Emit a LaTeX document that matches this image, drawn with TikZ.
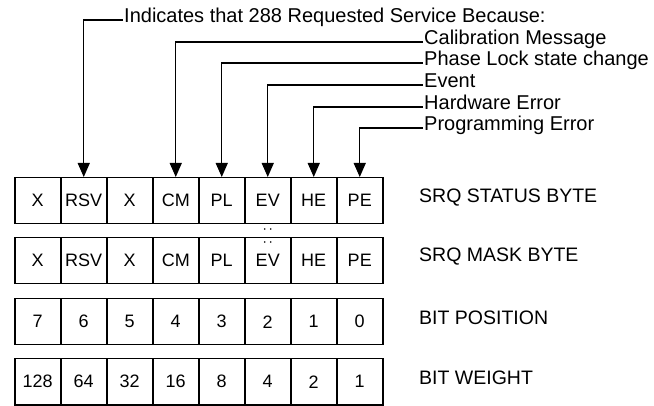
\documentclass[tikz,border=0pt]{standalone}
\usepackage{fontspec}
\setmainfont{Liberation Sans}
\usetikzlibrary{arrows.meta, calc}

\begin{document}
\begin{tikzpicture}[x=1pt,y=-1pt,
  cell/.style={draw, line width=1.5pt, minimum width=46pt, minimum height=46pt,
    inner sep=0pt, anchor=north west, font=\fontsize{18}{18}\selectfont},
  rowlabel/.style={anchor=west, inner sep=0pt, font=\fontsize{19.5}{20}\selectfont},
  toplabel/.style={anchor=west, inner sep=1pt, text height=0.72em, text depth=0.18em,
    font=\fontsize{20}{20}\selectfont},
  feed/.style={line width=1.3pt, -{Triangle[length=14pt,width=12pt]}}]
\useasboundingbox (0,0) rectangle (654,406);
% the four byte rows
\foreach \t [count=\i from 0] in {X,RSV,X,CM,PL,EV,HE,PE} {
  \node[cell] (st\i) at (14+46*\i,177) {\t};
  \node[cell] (mk\i) at (14+46*\i,237) {\t};
}
\foreach \t [count=\i from 0] in {7,6,5,4,3,2,1,0}
  \node[cell] (bp\i) at (14+46*\i,298) {\t};
\foreach \t [count=\i from 0] in {128,64,32,16,8,4,2,1}
  \node[cell] (bw\i) at (14+46*\i,358) {\t};
\node[rowlabel] (lstatus) at (419,198) {SRQ STATUS BYTE};
\node[rowlabel] (lmask) at (419,257) {SRQ MASK BYTE};
\node[rowlabel] (lpos) at (419,318) {BIT POSITION};
\node[rowlabel] (lweight) at (419,378) {BIT WEIGHT};
% reasons for the service request
\node[toplabel] (lrsv) at (123,20) {Indicates that 288 Requested Service Because:};
\node[toplabel] (lcm) at (423,42) {Calibration Message};
\node[toplabel] (lpl) at (423,63) {Phase Lock state change};
\node[toplabel] (lev) at (423,85) {Event};
\node[toplabel] (lhe) at (423,107) {Hardware Error};
\node[toplabel] (lpe) at (423,128) {Programming Error};
\draw[feed] (lrsv.west) -| (st1.north);
\draw[feed] (lcm.west) -| (st3.north);
\draw[feed] (lpl.west) -| (st4.north);
\draw[feed] (lev.west) -| (st5.north);
\draw[feed] (lhe.west) -| (st6.north);
\draw[feed] (lpe.west) -| (st7.north);
% dots over EV
\foreach \y in {-8,5} {
  \fill ($(mk5.north)+(-3,\y)$) circle (0.9pt);
  \fill ($(mk5.north)+(3,\y)$) circle (0.9pt);
}
\end{tikzpicture}
\end{document}
